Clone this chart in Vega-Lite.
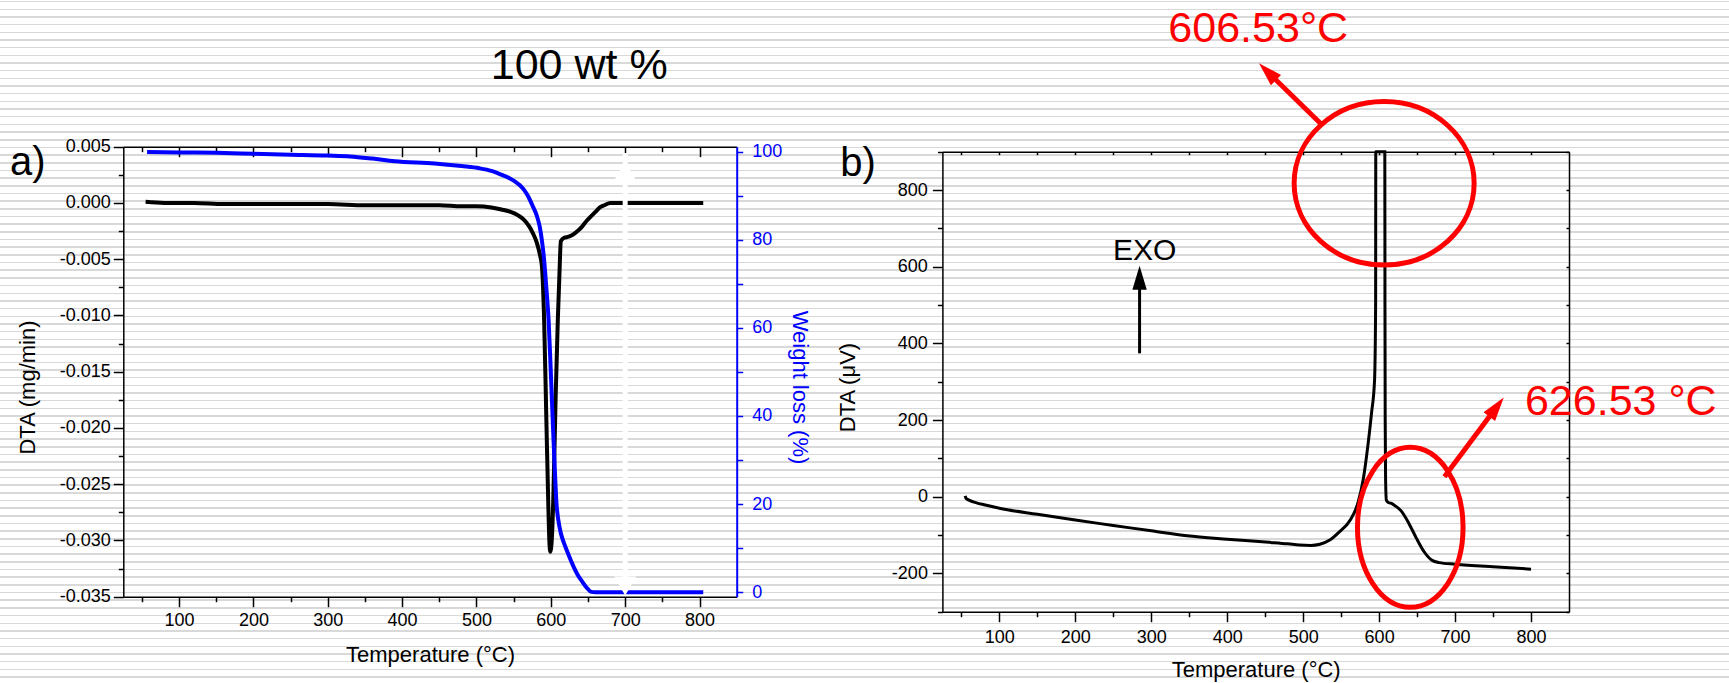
{
  "$schema": "https://vega.github.io/schema/vega-lite/v6.json",
  "padding": 0,
  "background": "white",
  "spacing": 0,
  "bounds": "flush",
  "datasets": {
    "dtaA": [
      {"T": 55, "dta": 0.0001}, {"T": 80, "dta": 0.0}, {"T": 120, "dta": 0.0}, {"T": 160, "dta": -0.0001},
      {"T": 200, "dta": -0.0001}, {"T": 250, "dta": -0.0001}, {"T": 300, "dta": -0.0001}, {"T": 350, "dta": -0.0002},
      {"T": 400, "dta": -0.0002}, {"T": 450, "dta": -0.0002}, {"T": 480, "dta": -0.0003}, {"T": 500, "dta": -0.0003},
      {"T": 520, "dta": -0.0004}, {"T": 535, "dta": -0.0006}, {"T": 546, "dta": -0.0008}, {"T": 556, "dta": -0.0011},
      {"T": 564, "dta": -0.0015}, {"T": 570, "dta": -0.002}, {"T": 576, "dta": -0.0027}, {"T": 581, "dta": -0.0035},
      {"T": 585, "dta": -0.0045}, {"T": 588, "dta": -0.0056}, {"T": 591, "dta": -0.0104}, {"T": 594, "dta": -0.0193},
      {"T": 596.5, "dta": -0.0265}, {"T": 598, "dta": -0.03}, {"T": 599.3, "dta": -0.031}, {"T": 600.5, "dta": -0.0306},
      {"T": 602, "dta": -0.029}, {"T": 603.3, "dta": -0.0264}, {"T": 606.4, "dta": -0.0175}, {"T": 609.4, "dta": -0.0104},
      {"T": 611.5, "dta": -0.0065}, {"T": 613.5, "dta": -0.0034}, {"T": 618, "dta": -0.0031}, {"T": 624, "dta": -0.003},
      {"T": 630, "dta": -0.0028}, {"T": 636, "dta": -0.0025}, {"T": 642, "dta": -0.0021}, {"T": 648, "dta": -0.0016},
      {"T": 654, "dta": -0.0012}, {"T": 660, "dta": -0.0008}, {"T": 666, "dta": -0.0004}, {"T": 672, "dta": -0.0002},
      {"T": 680, "dta": 0.0}, {"T": 700, "dta": 0.0}, {"T": 750, "dta": 0.0}, {"T": 805, "dta": 0.0}
    ],
    "wlA": [
      {"T": 57, "wl": 99.9}, {"T": 100, "wl": 99.8}, {"T": 150, "wl": 99.7}, {"T": 200, "wl": 99.5},
      {"T": 250, "wl": 99.3}, {"T": 300, "wl": 99.1}, {"T": 330, "wl": 98.9}, {"T": 360, "wl": 98.4},
      {"T": 390, "wl": 97.8}, {"T": 444, "wl": 97.3}, {"T": 480, "wl": 96.7}, {"T": 504, "wl": 96.2},
      {"T": 520, "wl": 95.6}, {"T": 534, "wl": 94.7}, {"T": 545, "wl": 93.9}, {"T": 552, "wl": 93.2},
      {"T": 558, "wl": 92.4}, {"T": 564, "wl": 91.3}, {"T": 570, "wl": 89.7}, {"T": 576, "wl": 87.5},
      {"T": 581, "wl": 85.5}, {"T": 585, "wl": 83.0}, {"T": 588, "wl": 79.8}, {"T": 591, "wl": 75.4},
      {"T": 594, "wl": 69.0}, {"T": 597, "wl": 61.8}, {"T": 599.5, "wl": 52.0}, {"T": 601.5, "wl": 43.6},
      {"T": 603.3, "wl": 36.0}, {"T": 605.2, "wl": 28.5}, {"T": 607.6, "wl": 20.2}, {"T": 610, "wl": 16.5},
      {"T": 613.5, "wl": 13.4}, {"T": 617, "wl": 11.5}, {"T": 621.3, "wl": 9.6}, {"T": 630.4, "wl": 5.9},
      {"T": 636, "wl": 4.0}, {"T": 642.3, "wl": 2.4}, {"T": 648, "wl": 1.1}, {"T": 654.3, "wl": 0.1},
      {"T": 660, "wl": 0.0}, {"T": 700, "wl": 0.0}, {"T": 805, "wl": 0.0}
    ],
    "dtaB": [
      {"T": 55, "v": 2}, {"T": 56, "v": -4}, {"T": 60, "v": -9}, {"T": 70, "v": -16}, {"T": 80, "v": -21},
      {"T": 100, "v": -30}, {"T": 150, "v": -46}, {"T": 200, "v": -61}, {"T": 250, "v": -75}, {"T": 300, "v": -89},
      {"T": 347, "v": -102}, {"T": 400, "v": -111}, {"T": 455, "v": -119}, {"T": 480, "v": -123}, {"T": 495, "v": -126},
      {"T": 510, "v": -127}, {"T": 522, "v": -124}, {"T": 535, "v": -113}, {"T": 548, "v": -91}, {"T": 562, "v": -61},
      {"T": 572, "v": -17}, {"T": 579, "v": 44}, {"T": 585, "v": 130}, {"T": 590, "v": 218}, {"T": 594, "v": 304},
      {"T": 595.4, "v": 500}, {"T": 595.6, "v": 900}, {"T": 607.5, "v": 900}, {"T": 607.7, "v": 500}, {"T": 608, "v": 200},
      {"T": 608.5, "v": 50}, {"T": 609.5, "v": -9}, {"T": 612, "v": -15}, {"T": 615.5, "v": -17}, {"T": 620, "v": -22},
      {"T": 629, "v": -37}, {"T": 639, "v": -69}, {"T": 649, "v": -108}, {"T": 659, "v": -143}, {"T": 669, "v": -165},
      {"T": 679, "v": -172}, {"T": 700, "v": -176}, {"T": 750, "v": -183}, {"T": 800, "v": -189}
    ]
  },
  "hconcat": [
    {
      "width": 830,
      "height": 683,
      "layer": [
        {
          "encoding": {
            "x": {
              "field": "T", "type": "quantitative",
              "scale": {"domain": [25, 850], "range": [123.3, 736.7], "nice": false, "zero": false},
              "axis": {
                "orient": "bottom", "offset": -86.3,
                "values": [50, 100, 150, 200, 250, 300, 350, 400, 450, 500, 550, 600, 650, 700, 750, 800],
                "labelExpr": "datum.value % 100 == 0 ? datum.label : ''",
                "tickSize": {"condition": {"test": "datum.value % 100 == 0", "value": 10}, "value": 5},
                "labelPadding": 5,
                "title": "Temperature (°C)", "titleY": 64.3, "titleBaseline": "alphabetic"
              }
            },
            "y": {
              "field": "dta", "type": "quantitative",
              "scale": {"domain": [-0.035, 0.005], "range": [596.7, 146.7], "nice": false, "zero": false},
              "axis": {
                "orient": "left", "offset": -123.3,
                "values": [-0.035, -0.0325, -0.03, -0.0275, -0.025, -0.0225, -0.02, -0.0175, -0.015, -0.0125, -0.01, -0.0075, -0.005, -0.0025, 0, 0.0025, 0.005],
                "labelExpr": "round(datum.value * 400) % 2 == 0 ? replace(format(datum.value, '.3f'), '\u2212', '-') : ''",
                "tickSize": {"condition": {"test": "round(datum.value * 400) % 2 == 0", "value": 10}, "value": 5},
                "labelPadding": 3,
                "title": "DTA (mg/min)", "titleX": -89.3, "titleY": 387, "titleBaseline": "alphabetic"
              }
            }
          },
          "layer": [
            {
              "data": {"name": "dtaA"},
              "mark": {"type": "line", "color": "black", "strokeWidth": 4, "interpolate": "monotone"}
            },
            {
              "data": {"values": [{"T": -127.4, "dta": 0.00248, "label": "a)"}]},
              "mark": {"type": "text", "fontSize": 40, "align": "left", "baseline": "alphabetic", "color": "black"},
              "encoding": {"text": {"field": "label"}}
            },
            {
              "data": {"values": [{"T": 519.2, "dta": 0.01106, "label": "100 wt %"}]},
              "mark": {"type": "text", "fontSize": 43, "align": "left", "baseline": "alphabetic", "color": "black"},
              "encoding": {"text": {"field": "label"}}
            }
          ]
        },
        {
          "data": {"name": "wlA"},
          "mark": {"type": "line", "color": "#0000ff", "strokeWidth": 4, "interpolate": "monotone"},
          "encoding": {
            "x": {
              "field": "T", "type": "quantitative",
              "scale": {"domain": [25, 850], "range": [123.3, 736.7], "nice": false, "zero": false},
              "axis": {
                "orient": "top", "offset": -146.7,
                "values": [50, 100, 150, 200, 250, 300, 350, 400, 450, 500, 550, 600, 650, 700, 750, 800],
                "labels": false,
                "tickSize": {"condition": {"test": "datum.value % 100 == 0", "value": -10}, "value": -5},
                "title": null
              }
            },
            "y": {
              "field": "wl", "type": "quantitative",
              "scale": {"domain": [-1, 101.1], "range": [596.7, 146.7], "nice": false, "zero": false},
              "axis": {
                "orient": "right", "offset": -93.3,
                "values": [0, 10, 20, 30, 40, 50, 60, 70, 80, 90, 100],
                "labelExpr": "datum.value % 20 == 0 ? datum.label : ''",
                "tickSize": 6, "labelPadding": 9,
                "domainColor": "#0000ff", "domainWidth": 2, "tickColor": "#0000ff",
                "labelColor": "#0000ff", "titleColor": "#0000ff",
                "title": "Weight loss (%)", "titleAngle": 90, "titleX": 55.3, "titleY": 387, "titleBaseline": "alphabetic"
              }
            }
          }
        },
        {
          "encoding": {
            "x": {
              "field": "T", "type": "quantitative",
              "scale": {"domain": [25, 850], "range": [123.3, 736.7], "nice": false, "zero": false},
              "axis": null
            },
            "y": {
              "field": "dta", "type": "quantitative",
              "scale": {"domain": [-0.035, 0.005], "range": [596.7, 146.7], "nice": false, "zero": false},
              "axis": null
            }
          },
          "layer": [
            {
              "data": {"values": [{"T": 700, "dta": 0.00444, "dta2": -0.0345}]},
              "mark": {"type": "rule", "color": "white", "strokeWidth": 5},
              "encoding": {"y2": {"field": "dta2"}}
            },
            {
              "data": {"values": [{"T": 700, "dta": 0.00284}]},
              "mark": {"type": "point", "shape": "triangle-up", "size": 484, "filled": true, "color": "white", "opacity": 1}
            },
            {
              "data": {"values": [{"T": 700, "dta": -0.03405}]},
              "mark": {"type": "point", "shape": "triangle-down", "size": 484, "filled": true, "color": "white", "opacity": 1}
            }
          ]
        }
      ],
      "resolve": {"scale": {"y": "independent"}, "axis": {"x": "independent", "y": "independent"}}
    },
    {
      "width": 899,
      "height": 683,
      "layer": [
        {
          "data": {"name": "dtaB"},
          "mark": {"type": "line", "color": "black", "strokeWidth": 3, "interpolate": "monotone"},
          "encoding": {
            "x": {
              "field": "T", "type": "quantitative",
              "scale": {"domain": [25, 850], "range": [112.4, 739], "nice": false, "zero": false},
              "axis": {
                "orient": "bottom", "offset": -71.3,
                "values": [50, 100, 150, 200, 250, 300, 350, 400, 450, 500, 550, 600, 650, 700, 750, 800],
                "labelExpr": "datum.value % 100 == 0 ? datum.label : ''",
                "tickSize": {"condition": {"test": "datum.value % 100 == 0", "value": 10}, "value": 5},
                "labelPadding": 6.6,
                "title": "Temperature (°C)", "titleY": 64.3, "titleBaseline": "alphabetic"
              }
            },
            "y": {
              "field": "v", "type": "quantitative",
              "scale": {"domain": [-300, 900], "range": [611.7, 151.7], "nice": false, "zero": false},
              "axis": {
                "orient": "left", "offset": -112.4,
                "values": [-300, -200, -100, 0, 100, 200, 300, 400, 500, 600, 700, 800, 900],
                "labelExpr": "datum.value % 200 == 0 ? replace(datum.label, '\u2212', '-') : ''",
                "tickSize": {"condition": {"test": "datum.value % 200 == 0", "value": 10}, "value": 5},
                "labelPadding": 5,
                "title": "DTA (\u03bcV)", "titleX": -88.4, "titleY": 387, "titleBaseline": "alphabetic"
              }
            }
          }
        },
        {
          "encoding": {
            "x": {
              "field": "T", "type": "quantitative",
              "axis": {
                "orient": "top", "offset": -151.7,
                "values": [50, 100, 150, 200, 250, 300, 350, 400, 450, 500, 550, 600, 650, 700, 750, 800],
                "labels": false, "tickSize": -3, "title": null
              }
            },
            "y": {
              "field": "v", "type": "quantitative",
              "axis": {
                "orient": "right", "offset": -160,
                "values": [-300, -200, -100, 0, 100, 200, 300, 400, 500, 600, 700, 800, 900],
                "labels": false, "tickSize": -3, "title": null
              }
            }
          },
          "layer": [
            {
              "data": {"values": [{"T": 606.6, "v": 817.6}]},
              "mark": {"type": "point", "shape": "M-1,0A1,0.908 0 1,1 1,0A1,0.908 0 1,1 -1,0", "size": 32400, "filled": false, "stroke": "#ff0000", "strokeWidth": 5, "opacity": 1}
            },
            {
              "data": {"values": [{"T": 641, "v": -80}]},
              "mark": {"type": "point", "shape": "M0,-1A0.66,1 0 1,1 0,1A0.66,1 0 1,1 0,-1", "size": 25600, "filled": false, "stroke": "#ff0000", "strokeWidth": 5, "opacity": 1}
            },
            {
              "data": {"values": [{"T": 525, "v": 969.7, "T2": 453, "v2": 1108.8}, {"T": 686, "v": 52.2, "T2": 754.6, "v2": 233.8}]},
              "mark": {"type": "rule", "color": "#ff0000", "strokeWidth": 5},
              "encoding": {"x2": {"field": "T2"}, "y2": {"field": "v2"}}
            },
            {
              "data": {"values": [{"T": 453, "v": 1108.8}]},
              "mark": {"type": "point", "shape": "M0,-1L-0.6,1L0.6,1Z", "size": 576, "angle": 315, "filled": true, "color": "#ff0000", "opacity": 1}
            },
            {
              "data": {"values": [{"T": 754.6, "v": 233.8}]},
              "mark": {"type": "point", "shape": "M0,-1L-0.6,1L0.6,1Z", "size": 576, "angle": 37, "filled": true, "color": "#ff0000", "opacity": 1}
            },
            {
              "data": {"values": [{"T": 322.5, "v": 1187, "label": "606.53°C"}, {"T": 792, "v": 213, "label": "626.53 °C"}]},
              "mark": {"type": "text", "fontSize": 43, "align": "left", "baseline": "alphabetic", "color": "#ff0000"},
              "encoding": {"text": {"field": "label"}}
            },
            {
              "data": {"values": [{"T": 291.3, "v": 617.5, "label": "EXO"}]},
              "mark": {"type": "text", "fontSize": 30, "align": "center", "baseline": "alphabetic", "color": "black"},
              "encoding": {"text": {"field": "label"}}
            },
            {
              "data": {"values": [{"T": 284.6, "v": 374, "v2": 556}]},
              "mark": {"type": "rule", "color": "black", "strokeWidth": 3},
              "encoding": {"y2": {"field": "v2"}}
            },
            {
              "data": {"values": [{"T": 284.6, "v": 571.4}]},
              "mark": {"type": "point", "shape": "M0,-1L-0.6,1L0.6,1Z", "size": 576, "filled": true, "color": "black", "opacity": 1}
            },
            {
              "data": {"values": [{"T": -109.5, "v": 836.7, "label": "b)"}]},
              "mark": {"type": "text", "fontSize": 40, "align": "left", "baseline": "alphabetic", "color": "black"},
              "encoding": {"text": {"field": "label"}}
            }
          ]
        }
      ],
      "resolve": {"axis": {"x": "independent", "y": "independent"}}
    }
  ],
  "config": {
    "font": "Liberation Sans",
    "view": {
      "stroke": null,
      "fill": {
        "gradient": "linear", "x1": 0, "y1": 0, "x2": 0, "y2": 1,
        "stops": [
          {"offset": 0.00124, "color": "#fff"}, {"offset": 0.00124, "color": "#d9d9d9"}, {"offset": 0.00344, "color": "#d9d9d9"}, {"offset": 0.00344, "color": "#fff"},
          {"offset": 0.01248, "color": "#fff"}, {"offset": 0.01248, "color": "#d9d9d9"}, {"offset": 0.01468, "color": "#d9d9d9"}, {"offset": 0.01468, "color": "#fff"},
          {"offset": 0.02372, "color": "#fff"}, {"offset": 0.02372, "color": "#d9d9d9"}, {"offset": 0.02592, "color": "#d9d9d9"}, {"offset": 0.02592, "color": "#fff"},
          {"offset": 0.03496, "color": "#fff"}, {"offset": 0.03496, "color": "#d9d9d9"}, {"offset": 0.03716, "color": "#d9d9d9"}, {"offset": 0.03716, "color": "#fff"},
          {"offset": 0.04619, "color": "#fff"}, {"offset": 0.04619, "color": "#d9d9d9"}, {"offset": 0.04839, "color": "#d9d9d9"}, {"offset": 0.04839, "color": "#fff"},
          {"offset": 0.05743, "color": "#fff"}, {"offset": 0.05743, "color": "#d9d9d9"}, {"offset": 0.05963, "color": "#d9d9d9"}, {"offset": 0.05963, "color": "#fff"},
          {"offset": 0.06867, "color": "#fff"}, {"offset": 0.06867, "color": "#d9d9d9"}, {"offset": 0.07087, "color": "#d9d9d9"}, {"offset": 0.07087, "color": "#fff"},
          {"offset": 0.07991, "color": "#fff"}, {"offset": 0.07991, "color": "#d9d9d9"}, {"offset": 0.08211, "color": "#d9d9d9"}, {"offset": 0.08211, "color": "#fff"},
          {"offset": 0.09114, "color": "#fff"}, {"offset": 0.09114, "color": "#d9d9d9"}, {"offset": 0.09334, "color": "#d9d9d9"}, {"offset": 0.09334, "color": "#fff"},
          {"offset": 0.10238, "color": "#fff"}, {"offset": 0.10238, "color": "#d9d9d9"}, {"offset": 0.10458, "color": "#d9d9d9"}, {"offset": 0.10458, "color": "#fff"},
          {"offset": 0.11362, "color": "#fff"}, {"offset": 0.11362, "color": "#d9d9d9"}, {"offset": 0.11582, "color": "#d9d9d9"}, {"offset": 0.11582, "color": "#fff"},
          {"offset": 0.12486, "color": "#fff"}, {"offset": 0.12486, "color": "#d9d9d9"}, {"offset": 0.12706, "color": "#d9d9d9"}, {"offset": 0.12706, "color": "#fff"},
          {"offset": 0.13609, "color": "#fff"}, {"offset": 0.13609, "color": "#d9d9d9"}, {"offset": 0.13829, "color": "#d9d9d9"}, {"offset": 0.13829, "color": "#fff"},
          {"offset": 0.14733, "color": "#fff"}, {"offset": 0.14733, "color": "#d9d9d9"}, {"offset": 0.14953, "color": "#d9d9d9"}, {"offset": 0.14953, "color": "#fff"},
          {"offset": 0.15857, "color": "#fff"}, {"offset": 0.15857, "color": "#d9d9d9"}, {"offset": 0.16077, "color": "#d9d9d9"}, {"offset": 0.16077, "color": "#fff"},
          {"offset": 0.1698, "color": "#fff"}, {"offset": 0.1698, "color": "#d9d9d9"}, {"offset": 0.172, "color": "#d9d9d9"}, {"offset": 0.172, "color": "#fff"},
          {"offset": 0.18104, "color": "#fff"}, {"offset": 0.18104, "color": "#d9d9d9"}, {"offset": 0.18324, "color": "#d9d9d9"}, {"offset": 0.18324, "color": "#fff"},
          {"offset": 0.19228, "color": "#fff"}, {"offset": 0.19228, "color": "#d9d9d9"}, {"offset": 0.19448, "color": "#d9d9d9"}, {"offset": 0.19448, "color": "#fff"},
          {"offset": 0.20352, "color": "#fff"}, {"offset": 0.20352, "color": "#d9d9d9"}, {"offset": 0.20572, "color": "#d9d9d9"}, {"offset": 0.20572, "color": "#fff"},
          {"offset": 0.21475, "color": "#fff"}, {"offset": 0.21475, "color": "#d9d9d9"}, {"offset": 0.21695, "color": "#d9d9d9"}, {"offset": 0.21695, "color": "#fff"},
          {"offset": 0.22599, "color": "#fff"}, {"offset": 0.22599, "color": "#d9d9d9"}, {"offset": 0.22819, "color": "#d9d9d9"}, {"offset": 0.22819, "color": "#fff"},
          {"offset": 0.23723, "color": "#fff"}, {"offset": 0.23723, "color": "#d9d9d9"}, {"offset": 0.23943, "color": "#d9d9d9"}, {"offset": 0.23943, "color": "#fff"},
          {"offset": 0.24846, "color": "#fff"}, {"offset": 0.24846, "color": "#d9d9d9"}, {"offset": 0.25066, "color": "#d9d9d9"}, {"offset": 0.25066, "color": "#fff"},
          {"offset": 0.2597, "color": "#fff"}, {"offset": 0.2597, "color": "#d9d9d9"}, {"offset": 0.2619, "color": "#d9d9d9"}, {"offset": 0.2619, "color": "#fff"},
          {"offset": 0.27094, "color": "#fff"}, {"offset": 0.27094, "color": "#d9d9d9"}, {"offset": 0.27314, "color": "#d9d9d9"}, {"offset": 0.27314, "color": "#fff"},
          {"offset": 0.28218, "color": "#fff"}, {"offset": 0.28218, "color": "#d9d9d9"}, {"offset": 0.28438, "color": "#d9d9d9"}, {"offset": 0.28438, "color": "#fff"},
          {"offset": 0.29341, "color": "#fff"}, {"offset": 0.29341, "color": "#d9d9d9"}, {"offset": 0.29561, "color": "#d9d9d9"}, {"offset": 0.29561, "color": "#fff"},
          {"offset": 0.30465, "color": "#fff"}, {"offset": 0.30465, "color": "#d9d9d9"}, {"offset": 0.30685, "color": "#d9d9d9"}, {"offset": 0.30685, "color": "#fff"},
          {"offset": 0.31589, "color": "#fff"}, {"offset": 0.31589, "color": "#d9d9d9"}, {"offset": 0.31809, "color": "#d9d9d9"}, {"offset": 0.31809, "color": "#fff"},
          {"offset": 0.32712, "color": "#fff"}, {"offset": 0.32712, "color": "#d9d9d9"}, {"offset": 0.32932, "color": "#d9d9d9"}, {"offset": 0.32932, "color": "#fff"},
          {"offset": 0.33836, "color": "#fff"}, {"offset": 0.33836, "color": "#d9d9d9"}, {"offset": 0.34056, "color": "#d9d9d9"}, {"offset": 0.34056, "color": "#fff"},
          {"offset": 0.3496, "color": "#fff"}, {"offset": 0.3496, "color": "#d9d9d9"}, {"offset": 0.3518, "color": "#d9d9d9"}, {"offset": 0.3518, "color": "#fff"},
          {"offset": 0.36083, "color": "#fff"}, {"offset": 0.36083, "color": "#d9d9d9"}, {"offset": 0.36303, "color": "#d9d9d9"}, {"offset": 0.36303, "color": "#fff"},
          {"offset": 0.37207, "color": "#fff"}, {"offset": 0.37207, "color": "#d9d9d9"}, {"offset": 0.37427, "color": "#d9d9d9"}, {"offset": 0.37427, "color": "#fff"},
          {"offset": 0.38331, "color": "#fff"}, {"offset": 0.38331, "color": "#d9d9d9"}, {"offset": 0.38551, "color": "#d9d9d9"}, {"offset": 0.38551, "color": "#fff"},
          {"offset": 0.39455, "color": "#fff"}, {"offset": 0.39455, "color": "#d9d9d9"}, {"offset": 0.39675, "color": "#d9d9d9"}, {"offset": 0.39675, "color": "#fff"},
          {"offset": 0.40578, "color": "#fff"}, {"offset": 0.40578, "color": "#d9d9d9"}, {"offset": 0.40798, "color": "#d9d9d9"}, {"offset": 0.40798, "color": "#fff"},
          {"offset": 0.41702, "color": "#fff"}, {"offset": 0.41702, "color": "#d9d9d9"}, {"offset": 0.41922, "color": "#d9d9d9"}, {"offset": 0.41922, "color": "#fff"},
          {"offset": 0.42826, "color": "#fff"}, {"offset": 0.42826, "color": "#d9d9d9"}, {"offset": 0.43046, "color": "#d9d9d9"}, {"offset": 0.43046, "color": "#fff"},
          {"offset": 0.4395, "color": "#fff"}, {"offset": 0.4395, "color": "#d9d9d9"}, {"offset": 0.4417, "color": "#d9d9d9"}, {"offset": 0.4417, "color": "#fff"},
          {"offset": 0.45073, "color": "#fff"}, {"offset": 0.45073, "color": "#d9d9d9"}, {"offset": 0.45293, "color": "#d9d9d9"}, {"offset": 0.45293, "color": "#fff"},
          {"offset": 0.46197, "color": "#fff"}, {"offset": 0.46197, "color": "#d9d9d9"}, {"offset": 0.46417, "color": "#d9d9d9"}, {"offset": 0.46417, "color": "#fff"},
          {"offset": 0.47321, "color": "#fff"}, {"offset": 0.47321, "color": "#d9d9d9"}, {"offset": 0.47541, "color": "#d9d9d9"}, {"offset": 0.47541, "color": "#fff"},
          {"offset": 0.48444, "color": "#fff"}, {"offset": 0.48444, "color": "#d9d9d9"}, {"offset": 0.48664, "color": "#d9d9d9"}, {"offset": 0.48664, "color": "#fff"},
          {"offset": 0.49568, "color": "#fff"}, {"offset": 0.49568, "color": "#d9d9d9"}, {"offset": 0.49788, "color": "#d9d9d9"}, {"offset": 0.49788, "color": "#fff"},
          {"offset": 0.50692, "color": "#fff"}, {"offset": 0.50692, "color": "#d9d9d9"}, {"offset": 0.50912, "color": "#d9d9d9"}, {"offset": 0.50912, "color": "#fff"},
          {"offset": 0.51815, "color": "#fff"}, {"offset": 0.51815, "color": "#d9d9d9"}, {"offset": 0.52035, "color": "#d9d9d9"}, {"offset": 0.52035, "color": "#fff"},
          {"offset": 0.52939, "color": "#fff"}, {"offset": 0.52939, "color": "#d9d9d9"}, {"offset": 0.53159, "color": "#d9d9d9"}, {"offset": 0.53159, "color": "#fff"},
          {"offset": 0.54063, "color": "#fff"}, {"offset": 0.54063, "color": "#d9d9d9"}, {"offset": 0.54283, "color": "#d9d9d9"}, {"offset": 0.54283, "color": "#fff"},
          {"offset": 0.55187, "color": "#fff"}, {"offset": 0.55187, "color": "#d9d9d9"}, {"offset": 0.55407, "color": "#d9d9d9"}, {"offset": 0.55407, "color": "#fff"},
          {"offset": 0.5631, "color": "#fff"}, {"offset": 0.5631, "color": "#d9d9d9"}, {"offset": 0.5653, "color": "#d9d9d9"}, {"offset": 0.5653, "color": "#fff"},
          {"offset": 0.57434, "color": "#fff"}, {"offset": 0.57434, "color": "#d9d9d9"}, {"offset": 0.57654, "color": "#d9d9d9"}, {"offset": 0.57654, "color": "#fff"},
          {"offset": 0.58558, "color": "#fff"}, {"offset": 0.58558, "color": "#d9d9d9"}, {"offset": 0.58778, "color": "#d9d9d9"}, {"offset": 0.58778, "color": "#fff"},
          {"offset": 0.59681, "color": "#fff"}, {"offset": 0.59681, "color": "#d9d9d9"}, {"offset": 0.59901, "color": "#d9d9d9"}, {"offset": 0.59901, "color": "#fff"},
          {"offset": 0.60805, "color": "#fff"}, {"offset": 0.60805, "color": "#d9d9d9"}, {"offset": 0.61025, "color": "#d9d9d9"}, {"offset": 0.61025, "color": "#fff"},
          {"offset": 0.61929, "color": "#fff"}, {"offset": 0.61929, "color": "#d9d9d9"}, {"offset": 0.62149, "color": "#d9d9d9"}, {"offset": 0.62149, "color": "#fff"},
          {"offset": 0.63053, "color": "#fff"}, {"offset": 0.63053, "color": "#d9d9d9"}, {"offset": 0.63273, "color": "#d9d9d9"}, {"offset": 0.63273, "color": "#fff"},
          {"offset": 0.64176, "color": "#fff"}, {"offset": 0.64176, "color": "#d9d9d9"}, {"offset": 0.64396, "color": "#d9d9d9"}, {"offset": 0.64396, "color": "#fff"},
          {"offset": 0.653, "color": "#fff"}, {"offset": 0.653, "color": "#d9d9d9"}, {"offset": 0.6552, "color": "#d9d9d9"}, {"offset": 0.6552, "color": "#fff"},
          {"offset": 0.66424, "color": "#fff"}, {"offset": 0.66424, "color": "#d9d9d9"}, {"offset": 0.66644, "color": "#d9d9d9"}, {"offset": 0.66644, "color": "#fff"},
          {"offset": 0.67548, "color": "#fff"}, {"offset": 0.67548, "color": "#d9d9d9"}, {"offset": 0.67768, "color": "#d9d9d9"}, {"offset": 0.67768, "color": "#fff"},
          {"offset": 0.68671, "color": "#fff"}, {"offset": 0.68671, "color": "#d9d9d9"}, {"offset": 0.68891, "color": "#d9d9d9"}, {"offset": 0.68891, "color": "#fff"},
          {"offset": 0.69795, "color": "#fff"}, {"offset": 0.69795, "color": "#d9d9d9"}, {"offset": 0.70015, "color": "#d9d9d9"}, {"offset": 0.70015, "color": "#fff"},
          {"offset": 0.70919, "color": "#fff"}, {"offset": 0.70919, "color": "#d9d9d9"}, {"offset": 0.71139, "color": "#d9d9d9"}, {"offset": 0.71139, "color": "#fff"},
          {"offset": 0.72042, "color": "#fff"}, {"offset": 0.72042, "color": "#d9d9d9"}, {"offset": 0.72262, "color": "#d9d9d9"}, {"offset": 0.72262, "color": "#fff"},
          {"offset": 0.73166, "color": "#fff"}, {"offset": 0.73166, "color": "#d9d9d9"}, {"offset": 0.73386, "color": "#d9d9d9"}, {"offset": 0.73386, "color": "#fff"},
          {"offset": 0.7429, "color": "#fff"}, {"offset": 0.7429, "color": "#d9d9d9"}, {"offset": 0.7451, "color": "#d9d9d9"}, {"offset": 0.7451, "color": "#fff"},
          {"offset": 0.75413, "color": "#fff"}, {"offset": 0.75413, "color": "#d9d9d9"}, {"offset": 0.75633, "color": "#d9d9d9"}, {"offset": 0.75633, "color": "#fff"},
          {"offset": 0.76537, "color": "#fff"}, {"offset": 0.76537, "color": "#d9d9d9"}, {"offset": 0.76757, "color": "#d9d9d9"}, {"offset": 0.76757, "color": "#fff"},
          {"offset": 0.77661, "color": "#fff"}, {"offset": 0.77661, "color": "#d9d9d9"}, {"offset": 0.77881, "color": "#d9d9d9"}, {"offset": 0.77881, "color": "#fff"},
          {"offset": 0.78785, "color": "#fff"}, {"offset": 0.78785, "color": "#d9d9d9"}, {"offset": 0.79005, "color": "#d9d9d9"}, {"offset": 0.79005, "color": "#fff"},
          {"offset": 0.79908, "color": "#fff"}, {"offset": 0.79908, "color": "#d9d9d9"}, {"offset": 0.80128, "color": "#d9d9d9"}, {"offset": 0.80128, "color": "#fff"},
          {"offset": 0.81032, "color": "#fff"}, {"offset": 0.81032, "color": "#d9d9d9"}, {"offset": 0.81252, "color": "#d9d9d9"}, {"offset": 0.81252, "color": "#fff"},
          {"offset": 0.82156, "color": "#fff"}, {"offset": 0.82156, "color": "#d9d9d9"}, {"offset": 0.82376, "color": "#d9d9d9"}, {"offset": 0.82376, "color": "#fff"},
          {"offset": 0.83279, "color": "#fff"}, {"offset": 0.83279, "color": "#d9d9d9"}, {"offset": 0.83499, "color": "#d9d9d9"}, {"offset": 0.83499, "color": "#fff"},
          {"offset": 0.84403, "color": "#fff"}, {"offset": 0.84403, "color": "#d9d9d9"}, {"offset": 0.84623, "color": "#d9d9d9"}, {"offset": 0.84623, "color": "#fff"},
          {"offset": 0.85527, "color": "#fff"}, {"offset": 0.85527, "color": "#d9d9d9"}, {"offset": 0.85747, "color": "#d9d9d9"}, {"offset": 0.85747, "color": "#fff"},
          {"offset": 0.86651, "color": "#fff"}, {"offset": 0.86651, "color": "#d9d9d9"}, {"offset": 0.86871, "color": "#d9d9d9"}, {"offset": 0.86871, "color": "#fff"},
          {"offset": 0.87774, "color": "#fff"}, {"offset": 0.87774, "color": "#d9d9d9"}, {"offset": 0.87994, "color": "#d9d9d9"}, {"offset": 0.87994, "color": "#fff"},
          {"offset": 0.88898, "color": "#fff"}, {"offset": 0.88898, "color": "#d9d9d9"}, {"offset": 0.89118, "color": "#d9d9d9"}, {"offset": 0.89118, "color": "#fff"},
          {"offset": 0.90022, "color": "#fff"}, {"offset": 0.90022, "color": "#d9d9d9"}, {"offset": 0.90242, "color": "#d9d9d9"}, {"offset": 0.90242, "color": "#fff"},
          {"offset": 0.91146, "color": "#fff"}, {"offset": 0.91146, "color": "#d9d9d9"}, {"offset": 0.91366, "color": "#d9d9d9"}, {"offset": 0.91366, "color": "#fff"},
          {"offset": 0.92269, "color": "#fff"}, {"offset": 0.92269, "color": "#d9d9d9"}, {"offset": 0.92489, "color": "#d9d9d9"}, {"offset": 0.92489, "color": "#fff"},
          {"offset": 0.93393, "color": "#fff"}, {"offset": 0.93393, "color": "#d9d9d9"}, {"offset": 0.93613, "color": "#d9d9d9"}, {"offset": 0.93613, "color": "#fff"},
          {"offset": 0.94517, "color": "#fff"}, {"offset": 0.94517, "color": "#d9d9d9"}, {"offset": 0.94737, "color": "#d9d9d9"}, {"offset": 0.94737, "color": "#fff"},
          {"offset": 0.9564, "color": "#fff"}, {"offset": 0.9564, "color": "#d9d9d9"}, {"offset": 0.9586, "color": "#d9d9d9"}, {"offset": 0.9586, "color": "#fff"},
          {"offset": 0.96764, "color": "#fff"}, {"offset": 0.96764, "color": "#d9d9d9"}, {"offset": 0.96984, "color": "#d9d9d9"}, {"offset": 0.96984, "color": "#fff"},
          {"offset": 0.97888, "color": "#fff"}, {"offset": 0.97888, "color": "#d9d9d9"}, {"offset": 0.98108, "color": "#d9d9d9"}, {"offset": 0.98108, "color": "#fff"},
          {"offset": 0.99011, "color": "#fff"}, {"offset": 0.99011, "color": "#d9d9d9"}, {"offset": 0.99231, "color": "#d9d9d9"}, {"offset": 0.99231, "color": "#fff"}
        ]
      }
    },
    "axis": {
      "grid": false,
      "domainColor": "black", "domainWidth": 1.5,
      "tickColor": "black", "tickWidth": 1.5,
      "labelColor": "black", "labelFont": "Liberation Sans", "labelFontSize": 18,
      "titleColor": "black", "titleFont": "Liberation Sans", "titleFontSize": 22, "titleFontWeight": "normal",
      "labelOverlap": false, "labelFlush": false, "labelBound": false,
      "zindex": 1
    },
    "text": {"font": "Liberation Sans"}
  }
}
